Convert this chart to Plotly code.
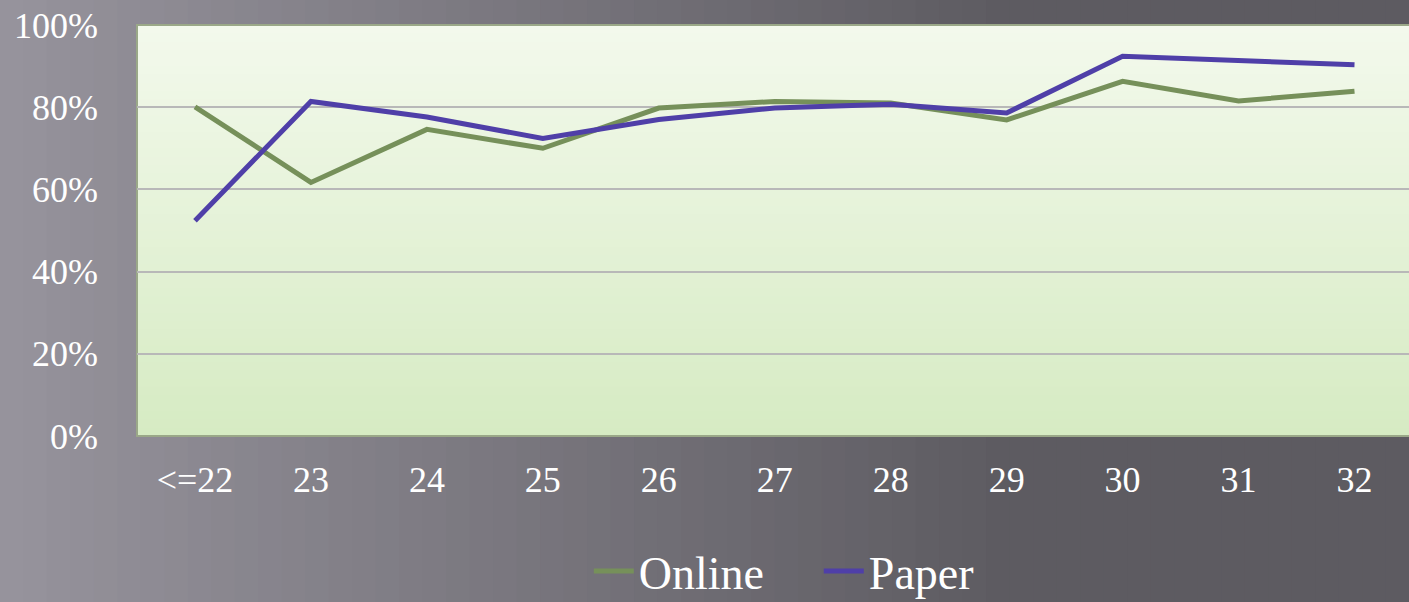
import plotly.graph_objects as go

categories = ["<=22", "23", "24", "25", "26", "27", "28", "29", "30", "31", "32"]
online = [80.1, 61.7, 74.6, 70.0, 79.8, 81.4, 81.0, 76.9, 86.3, 81.5, 83.9]
paper = [52.4, 81.4, 77.6, 72.4, 77.0, 79.8, 80.7, 78.6, 92.4, 91.3, 90.3]
y_ticks = [0, 20, 40, 60, 80, 100]
y_labels = ["0%", "20%", "40%", "60%", "80%", "100%"]

FONT = "Liberation Serif, DejaVu Serif, serif"
W, H = 1409, 602
ML, MR, MT, MB = 137, 0, 25, 166
PW, PH = W - ML - MR, H - MT - MB


def lerp(c1, c2, t):
    return "rgb(%d,%d,%d)" % tuple(round(a + (b - a) * t) for a, b in zip(c1, c2))


shapes = []
# figure background: horizontal gradient (lighter on left)
x0p, x1p = -ML / PW, (W - ML) / PW
y0p, y1p = -MB / PH, (H - MB) / PH
n = 60
for i in range(n):
    t = i / (n - 1)
    col = lerp((150, 147, 156), (93, 91, 97), min(1.0, t * 1.4))
    shapes.append(dict(type="rect", xref="paper", yref="paper", layer="below",
                       x0=x0p + (x1p - x0p) * i / n, x1=x0p + (x1p - x0p) * (i + 1) / n + 0.002,
                       y0=y0p - 0.01, y1=y1p + 0.01, line=dict(width=0), fillcolor=col))
# plot area: vertical gradient
m = 50
for i in range(m):
    t = i / (m - 1)
    col = lerp((214, 235, 195), (243, 249, 236), t)
    shapes.append(dict(type="rect", xref="paper", yref="paper", layer="below",
                       x0=0, x1=1, y0=i / m, y1=(i + 1) / m + 0.002,
                       line=dict(width=0), fillcolor=col))
shapes.append(dict(type="rect", xref="paper", yref="paper", layer="below",
                   x0=0, x1=1.01, y0=0, y1=1, line=dict(width=2, color="#9aa888"),
                   fillcolor="rgba(0,0,0,0)"))

fig = go.Figure()
fig.add_trace(go.Scatter(x=categories, y=online, mode="lines", name="Online",
                         line=dict(color="#76905a", width=5)))
fig.add_trace(go.Scatter(x=categories, y=paper, mode="lines", name="Paper",
                         line=dict(color="#4f3fa8", width=5)))

fig.update_layout(
    width=W, height=H,
    margin=dict(l=ML, r=MR, t=MT, b=MB, pad=0, autoexpand=False),
    paper_bgcolor="#5f5d63",
    plot_bgcolor="rgba(0,0,0,0)",
    font=dict(family=FONT, color="white", size=36),
    shapes=shapes,
    showlegend=True,
    legend=dict(orientation="h", x=0.536, xanchor="center",
                yref="container", y=1 - 571 / H, yanchor="middle",
                font=dict(size=46, color="white"), bgcolor="rgba(0,0,0,0)",
                itemwidth=40, entrywidth=175, entrywidthmode="pixels"),
    xaxis=dict(type="category", range=[-0.5, 10.47], showgrid=False, zeroline=False,
               showline=False, ticks="", tickfont=dict(size=36, color="white"),
               ticklabelstandoff=19),
    yaxis=dict(range=[0, 100], tickvals=y_ticks, ticktext=y_labels, showgrid=True,
               gridcolor="#b8b8b8", gridwidth=2, zeroline=False, showline=False,
               ticks="", tickfont=dict(size=36, color="white"), ticklabelstandoff=38),
)

fig.write_html("out.html", config={"displayModeBar": False},
               post_script="document.body.style.margin='0';")
